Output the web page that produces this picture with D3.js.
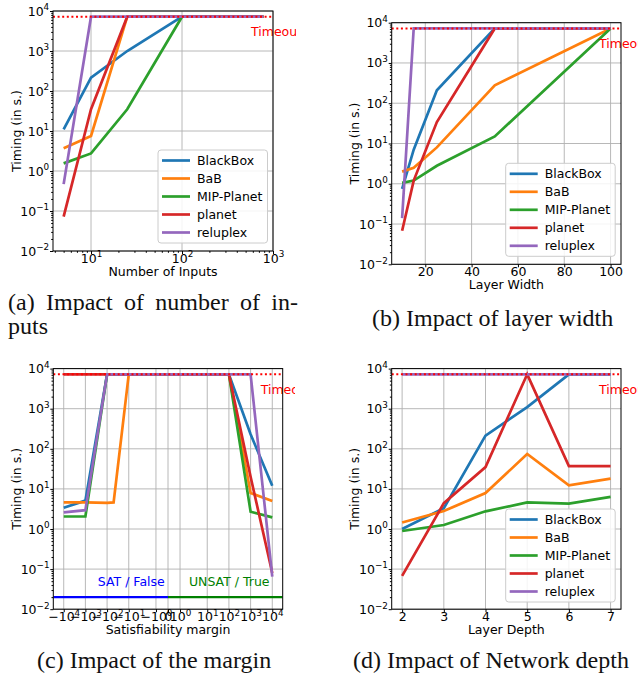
<!DOCTYPE html>
<html><head><meta charset="utf-8">
<script src="https://cdn.jsdelivr.net/npm/d3@7"></script>
<style>body{margin:0;background:#fff} svg{display:block}</style>
</head><body>
<svg id="chart" width="638" height="675"></svg>
<script>
// ---------------- DATA ----------------
const seriesNames = ["BlackBox", "BaB", "MIP-Planet", "planet", "reluplex"];
const seriesColors = ["#1f77b4", "#ff7f0e", "#2ca02c", "#d62728", "#9467bd"];
const timeoutValue = 7200;
const yTicks = [1e-2, 1e-1, 1e0, 1e1, 1e2, 1e3, 1e4];

// (a) number of inputs
const inputsX = [5, 10, 25, 100, 784];
const inputsBlackBox = [11, 215, 1000, 7200, 7200];
const inputsBaB = [3.7, 7.5, 7200, 7200, 7200];
const inputsMIP = [1.55, 2.75, 35, 7200, 7200];
const inputsPlanet = [0.072, 35, 7200, 7200, 7200];
const inputsReluplex = [0.47, 7200, 7200, 7200, 7200];
const inputsTicks = [10, 100, 1000];

// (b) layer width
const widthX = [10, 15, 25, 50, 100];
const widthBlackBox = [0.75, 7, 210, 7200, 7200];
const widthBaB = [2.0, 2.5, 8, 280, 7200];
const widthMIP = [1.05, 1.2, 2.8, 15, 7200];
const widthPlanet = [0.068, 1.2, 34, 7200, 7200];
const widthReluplex = [0.14, 7200, 7200, 7200, 7200];
const widthTicks = [20, 40, 60, 80, 100];

// (c) margin
const marginX = [-10000, -1000, -100, -50, -10, -1, 1, 10, 100, 1000, 10000];
const marginBlackBox = [3.4, 5.1, 7200, 7200, 7200, 7200, 7200, 7200, 7200, 230, 12];
const marginBaB = [4.6, 4.6, 4.5, 4.6, 7200, 7200, 7200, 7200, 7200, 7.9, 5.0];
const marginMIP = [2.05, 2.05, 7200, 7200, 7200, 7200, 7200, 7200, 7200, 2.7, 1.95];
const marginPlanet = [7200, 7200, 7200, 7200, 7200, 7200, 7200, 7200, 7200, 20, 0.08];
const marginReluplex = [2.6, 2.95, 7200, 7200, 7200, 7200, 7200, 7200, 7200, 7200, 0.065];
const marginTicks = [-1e4, -1e3, -1e2, -1e1, -1, 0, 1, 1e1, 1e2, 1e3, 1e4];
const satLineValue = 0.02;
const satLabels = ["SAT / False", "UNSAT / True"];

// (d) depth
const depthX = [2, 3, 4, 5, 6, 7];
const depthBlackBox = [1.0, 3.3, 213, 1100, 7200, 7200];
const depthBaB = [1.45, 2.8, 7.9, 74, 12.3, 18];
const depthMIP = [0.89, 1.26, 2.76, 4.6, 4.3, 6.3];
const depthPlanet = [0.068, 4.4, 35, 7200, 37, 37];
const depthReluplex = [7200, 7200, 7200, 7200, 7200, 7200];
const depthTicks = [2, 3, 4, 5, 6, 7];

const captions = ["(a) Impact of number of in-", "puts", "(b) Impact of layer width",
                  "(c) Impact of the margin", "(d) Impact of Network depth"];

// ---------------- HELPERS ----------------
const FONT = "DejaVu Sans";
const FS = 12.5;
const svg = d3.select("#chart");

// matplotlib-like symlog (linthresh 2, linscale 1)
const LT = 2, LA = 1 / (1 - 1 / 10);
const symT = v => {
  const a = Math.abs(v);
  return Math.sign(v) * (a <= LT ? a * LA / LT : LA + Math.log10(a / LT));
};

function powLabel(textNode, v) {
  const t = d3.select(textNode);
  t.text(null);
  if (v === 0) { t.text("0"); return; }
  const e = Math.round(Math.log10(Math.abs(v)));
  t.append("tspan").text((v < 0 ? "\u2212" : "") + "10");
  t.append("tspan").attr("font-size", 8.8).attr("dy", -5.2)
    .text(e < 0 ? "\u2212" + (-e) : String(e));
}

const panels = [
  { L: 53, R: 273, T: 11, B: 251, clipW: 296,
    x: d3.scaleLog().domain([3.82, 1000]), xT: v => v,
    xs: inputsX, ys: [inputsBlackBox, inputsBaB, inputsMIP, inputsPlanet, inputsReluplex],
    xTicks: inputsTicks, xFmt: "pow", xMinor: true, xLabel: "Number of Inputs", legend: [158, 150] },
  { L: 391.7, R: 621, T: 22.7, B: 264.3, clipW: null,
    x: d3.scaleLinear().domain([5.5, 104.5]), xT: v => v,
    xs: widthX, ys: [widthBlackBox, widthBaB, widthMIP, widthPlanet, widthReluplex],
    xTicks: widthTicks, xFmt: "num", xLabel: "Layer Width", legend: [505.7, 163.3] },
  { L: 53.3, R: 282.7, T: 368.6, B: 609.2, clipW: 295,
    x: d3.scaleLinear().domain([-(symT(1e4) * 1.1), symT(1e4) * 1.1]), xT: symT,
    xs: marginX, ys: [marginBlackBox, marginBaB, marginMIP, marginPlanet, marginReluplex],
    xTicks: marginTicks, xFmt: "pow", xLabel: "Satisfiability margin", legend: null, sat: true },
  { L: 391.7, R: 621, T: 368.6, B: 609.2, clipW: null,
    x: d3.scaleLinear().domain([1.75, 7.25]), xT: v => v,
    xs: depthX, ys: [depthBlackBox, depthBaB, depthMIP, depthPlanet, depthReluplex],
    xTicks: depthTicks, xFmt: "num", xLabel: "Layer Depth", legend: [505.7, 509] }
];

const defs = svg.append("defs");

panels.forEach((p, pi) => {
  p.x.range([p.L, p.R]);
  const y = d3.scaleLog().domain([1e-2, 1e4]).range([p.B, p.T]);
  const X = v => p.x(p.xT(v));
  let root = svg.append("g");
  if (p.clipW) {
    defs.append("clipPath").attr("id", "col" + pi)
      .append("rect").attr("x", 0).attr("y", p.T - 20).attr("width", p.clipW).attr("height", 300);
    root.attr("clip-path", "url(#col" + pi + ")");
  }
  defs.append("clipPath").attr("id", "plot" + pi)
    .append("rect").attr("x", p.L).attr("y", p.T).attr("width", p.R - p.L).attr("height", p.B - p.T);

  // grid
  const grid = root.append("g").attr("stroke", "#b0b0b0").attr("stroke-width", 0.9);
  grid.selectAll("line.v").data(p.xTicks).join("line").attr("class", "v")
    .attr("x1", d => X(d)).attr("x2", d => X(d)).attr("y1", p.T).attr("y2", p.B);
  grid.selectAll("line.h").data(yTicks).join("line").attr("class", "h")
    .attr("x1", p.L).attr("x2", p.R).attr("y1", d => y(d)).attr("y2", d => y(d));

  // y axis
  const yAxis = d3.axisLeft(y).tickValues(yTicks).tickSize(3).tickPadding(0.8);
  const gy = root.append("g").attr("transform", `translate(${p.L},0)`).call(yAxis);
  gy.select(".domain").remove();
  gy.selectAll(".tick text").attr("font-family", FONT).attr("font-size", FS).attr("fill", "#000")
    .each(function (d) { powLabel(this, d); });
  const yMinor = [];
  for (let e = -2; e < 4; e++) for (let k = 2; k <= 9; k++) yMinor.push(k * Math.pow(10, e));
  const gym = root.append("g").attr("transform", `translate(${p.L},0)`)
    .call(d3.axisLeft(y).tickValues(yMinor).tickSize(1.8).tickFormat(""));
  gym.select(".domain").remove();

  // x axis
  const xAxis = d3.axisBottom(p.x).tickValues(p.xTicks.map(p.xT)).tickSize(3).tickPadding(0);
  const gx = root.append("g").attr("transform", `translate(0,${p.B})`).call(xAxis);
  gx.select(".domain").remove();
  gx.selectAll(".tick text").attr("font-family", FONT).attr("font-size", FS).attr("fill", "#000")
    .attr("y", 2.8)
    .each(function (d, i) {
      const v = p.xTicks[i];
      if (p.xFmt === "pow") powLabel(this, v); else d3.select(this).text(v);
    });
  if (p.xMinor) {
    const xm = [];
    const [d0, d1] = p.x.domain();
    for (let e = 0; e < 3; e++) for (let k = 2; k <= 9; k++) {
      const v = k * Math.pow(10, e); if (v >= d0 && v <= d1) xm.push(v);
    }
    const gxm = root.append("g").attr("transform", `translate(0,${p.B})`)
      .call(d3.axisBottom(p.x).tickValues(xm).tickSize(1.8).tickFormat(""));
    gxm.select(".domain").remove();
  }

  // labels
  root.append("text").attr("x", (p.L + p.R) / 2).attr("y", p.B + 24.5)
    .attr("text-anchor", "middle").attr("font-family", FONT).attr("font-size", FS).text(p.xLabel);
  root.append("text").attr("transform", `translate(${p.L - 32.5},${(p.T + p.B) / 2}) rotate(-90)`)
    .attr("text-anchor", "middle").attr("font-family", FONT).attr("font-size", FS).text("Timing (in s.)");

  // data
  const plot = root.append("g").attr("clip-path", `url(#plot${pi})`);
  if (p.sat) {
    const yS = y(satLineValue);
    const x0 = X(0);
    plot.append("line").attr("x1", p.L).attr("x2", x0).attr("y1", yS).attr("y2", yS)
      .attr("stroke", "#0000ff").attr("stroke-width", 2.2);
    plot.append("line").attr("x1", x0).attr("x2", p.R).attr("y1", yS).attr("y2", yS)
      .attr("stroke", "#008000").attr("stroke-width", 2.2);
  }
  const line = d3.line().x((d, i) => X(p.xs[i])).y(d => y(d));
  p.ys.forEach((vals, si) => {
    plot.append("path").attr("d", line(vals)).attr("fill", "none")
      .attr("stroke", seriesColors[si]).attr("stroke-width", 2.7)
      .attr("stroke-linejoin", "miter").attr("stroke-linecap", "butt");
  });
  // timeout
  root.append("line").attr("x1", p.L).attr("x2", p.R)
    .attr("y1", y(timeoutValue)).attr("y2", y(timeoutValue))
    .attr("stroke", "#ff0000").attr("stroke-width", 2).attr("stroke-dasharray", "2,2.6");
  root.append("text").attr("x", p.R - 22).attr("y", y(timeoutValue) + 19.5)
    .attr("font-family", FONT).attr("font-size", FS).attr("fill", "#ff0000").text("Timeout");

  if (p.sat) {
    const ty = y(0.05) + 4.5;
    root.append("text").attr("x", p.L + 0.34 * (p.R - p.L)).attr("y", ty).attr("text-anchor", "middle")
      .attr("font-family", FONT).attr("font-size", FS).attr("fill", "#0000ff").text(satLabels[0]);
    root.append("text").attr("x", p.L + 0.767 * (p.R - p.L)).attr("y", ty).attr("text-anchor", "middle")
      .attr("font-family", FONT).attr("font-size", FS).attr("fill", "#008000").text(satLabels[1]);
  }

  // frame
  root.append("rect").attr("x", p.L).attr("y", p.T).attr("width", p.R - p.L).attr("height", p.B - p.T)
    .attr("fill", "none").attr("stroke", "#000").attr("stroke-width", 1);

  // legend
  if (p.legend) {
    const [lx, ly] = p.legend;
    const lg = root.append("g");
    lg.append("rect").attr("x", lx).attr("y", ly).attr("width", 109.5).attr("height", 93)
      .attr("rx", 3).attr("fill", "#fff").attr("fill-opacity", 0.85)
      .attr("stroke", "#cccccc").attr("stroke-width", 1);
    seriesNames.forEach((n, i) => {
      const yy = ly + 10.5 + i * 18;
      lg.append("line").attr("x1", lx + 4).attr("x2", lx + 32).attr("y1", yy).attr("y2", yy)
        .attr("stroke", seriesColors[i]).attr("stroke-width", 2.7);
      lg.append("text").attr("x", lx + 39).attr("y", yy + 4.5).attr("font-family", FONT)
        .attr("font-size", FS).attr("fill", "#000").text(n);
    });
  }
});

// captions
const SERIF = "Liberation Serif";
function caption(txt, x, y, targetW) {
  const t = svg.append("text").attr("x", x).attr("y", y).attr("font-family", SERIF)
    .attr("font-size", 24).attr("fill", "#111").text(txt);
  if (targetW) {
    const nat = t.node().getComputedTextLength();
    const spaces = (txt.match(/ /g) || []).length;
    if (spaces) t.attr("word-spacing", Math.max(0, (targetW - nat) / spaces));
  }
  return t;
}
caption(captions[0], 8, 310, 290);
caption(captions[1], 8, 334);
caption(captions[2], 372, 326);
caption(captions[3], 37, 668);
caption(captions[4], 353, 668);
</script>
</body></html>
